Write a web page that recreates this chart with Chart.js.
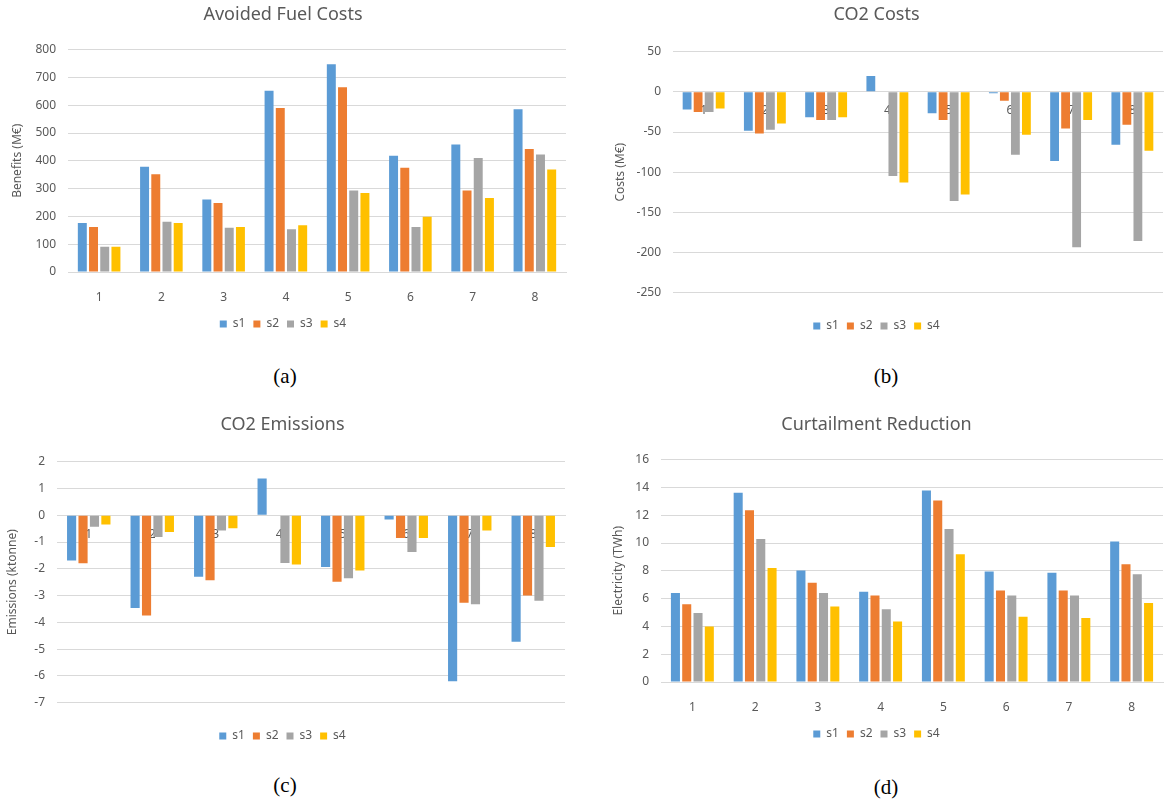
<!DOCTYPE html>
<html>
<head>
<meta charset="utf-8">
<script src="https://cdn.jsdelivr.net/npm/chart.js@4/dist/chart.umd.min.js"></script>
<style>
  body { margin: 0; background: #fff; width: 1164px; height: 805px; position: relative; overflow: hidden; }
  .panel { position: absolute; }
  .caption { position: absolute; font-family: "Liberation Serif", "DejaVu Serif", serif; font-size: 21px; color: #000; transform: translateX(-50%); }
</style>
</head>
<body>
<div class="panel" style="left:0;top:0;width:580px;height:340px"><canvas id="fuelChart"></canvas></div>
<div class="panel" style="left:590px;top:0;width:574px;height:342px"><canvas id="costChart"></canvas></div>
<div class="panel" style="left:0;top:410px;width:580px;height:342px"><canvas id="emisChart"></canvas></div>
<div class="panel" style="left:590px;top:410px;width:574px;height:340px"><canvas id="curtChart"></canvas></div>
<div class="caption" style="left:285px;top:364px">(a)</div>
<div class="caption" style="left:886px;top:364px">(b)</div>
<div class="caption" style="left:285px;top:773px">(c)</div>
<div class="caption" style="left:886px;top:775px">(d)</div>

<script>
// categories and series
const cases = ['1', '2', '3', '4', '5', '6', '7', '8'];
const seriesNames = ['s1', 's2', 's3', 's4'];
const seriesColors = ['#5B9BD5', '#ED7D31', '#A5A5A5', '#FFC000'];

// (a) Avoided Fuel Costs, M€
const fuelS1 = [176, 379, 261, 652, 747, 418, 459, 585];
const fuelS2 = [162, 352, 248, 590, 665, 375, 293, 442];
const fuelS3 = [91, 181, 159, 154, 293, 162, 410, 423];
const fuelS4 = [91, 176, 162, 168, 284, 199, 266, 369];

// (b) CO2 Costs, M€
const costS1 = [-22, -48.5, -31.5, 19.5, -26.6, -1.7, -86, -66];
const costS2 = [-25, -52, -35, 0, -35, -11, -45.6, -41];
const costS3 = [-25, -47.3, -35, -104.6, -135.7, -78.4, -193.4, -185.5];
const costS4 = [-20.7, -39.4, -31.5, -112.9, -127.8, -53.5, -35, -73.4];

// (c) CO2 Emissions, ktonne
const emisS1 = [-1.69, -3.46, -2.30, 1.37, -1.93, -0.16, -6.2, -4.72];
const emisS2 = [-1.79, -3.74, -2.43, 0, -2.48, -0.85, -3.27, -3.0];
const emisS3 = [-0.43, -0.81, -0.57, -1.78, -2.35, -1.37, -3.32, -3.19];
const emisS4 = [-0.35, -0.63, -0.49, -1.84, -2.06, -0.85, -0.57, -1.19];

// (d) Curtailment Reduction, TWh
const curtS1 = [6.4, 13.61, 8.02, 6.5, 13.78, 7.95, 7.86, 10.1];
const curtS2 = [5.59, 12.35, 7.14, 6.23, 13.06, 6.59, 6.59, 8.48];
const curtS3 = [4.97, 10.29, 6.4, 5.23, 11.0, 6.23, 6.23, 7.76];
const curtS4 = [3.99, 8.21, 5.44, 4.35, 9.19, 4.7, 4.61, 5.68];

const textColor = '#595959';
const gridColor = '#d9d9d9';
const fontFamily = '"Noto Sans", "Open Sans", sans-serif';

function buildDatasets(values) {
  return values.map((data, i) => ({
    label: seriesNames[i],
    data: data,
    backgroundColor: seriesColors[i],
    borderWidth: 0,
    barPercentage: 0.8,
    categoryPercentage: 0.72
  }));
}

function makeChart(canvasId, cfg) {
  const ctx = document.getElementById(canvasId).getContext('2d');
  return new Chart(ctx, {
    type: 'bar',
    data: {
      labels: cases,
      datasets: buildDatasets(cfg.series)
    },
    options: {
      responsive: true,
      maintainAspectRatio: false,
      animation: false,
      layout: { padding: { left: 0, right: cfg.right, top: 0, bottom: 0 } },
      plugins: {
        title: {
          display: true,
          text: cfg.title,
          color: textColor,
          font: { family: fontFamily, size: 18, weight: 'normal' },
          padding: { top: 4, bottom: cfg.titleGap }
        },
        legend: {
          position: 'bottom',
          // empty legend title only used as a spacer when the x axis sits at zero
          title: {
            display: !!cfg.zeroAxis,
            text: '',
            font: { size: 1 },
            padding: { top: 0, bottom: 18 }
          },
          labels: {
            color: textColor,
            font: { family: fontFamily, size: 12 },
            boxWidth: 7,
            boxHeight: 7,
            padding: 8
          }
        },
        tooltip: { enabled: false }
      },
      scales: {
        x: {
          position: cfg.zeroAxis ? { y: 0 } : 'bottom',
          z: cfg.zeroAxis ? 1 : 0,
          grid: { display: false },
          border: { display: true, color: gridColor, width: 1 },
          afterFit: (scale) => { if (!cfg.zeroAxis) scale.height = 38; },
          ticks: {
            color: textColor,
            font: { family: fontFamily, size: 12 },
            padding: cfg.zeroAxis ? 4 : 10
          }
        },
        y: {
          min: cfg.min,
          max: cfg.max,
          grid: { color: gridColor, drawTicks: false },
          border: { display: false },
          afterFit: (scale) => { scale.width = cfg.yWidth; },
          ticks: {
            stepSize: cfg.step,
            color: textColor,
            font: { family: fontFamily, size: 12 },
            padding: 12
          },
          title: {
            display: true,
            text: cfg.yTitle,
            color: textColor,
            font: { family: fontFamily, size: 12 },
            padding: { top: cfg.titleShift, bottom: 0 }
          }
        }
      }
    }
  });
}

makeChart('fuelChart', {
  title: 'Avoided Fuel Costs',
  yTitle: 'Benefits (M€)',
  series: [fuelS1, fuelS2, fuelS3, fuelS4],
  min: 0, max: 800, step: 100,
  yWidth: 68, titleShift: 10, titleGap: 24, right: 14
});

makeChart('costChart', {
  title: 'CO2 Costs',
  yTitle: 'Costs (M€)',
  series: [costS1, costS2, costS3, costS4],
  min: -250, max: 50, step: 50,
  yWidth: 83, titleShift: 23, titleGap: 26, right: 1, zeroAxis: true
});

makeChart('emisChart', {
  title: 'CO2 Emissions',
  yTitle: 'Emissions (ktonne)',
  series: [emisS1, emisS2, emisS3, emisS4],
  min: -7, max: 2, step: 1,
  yWidth: 57, titleShift: 5, titleGap: 26, right: 15, zeroAxis: true
});

makeChart('curtChart', {
  title: 'Curtailment Reduction',
  yTitle: 'Electricity (TWh)',
  series: [curtS1, curtS2, curtS3, curtS4],
  min: 0, max: 16, step: 2,
  yWidth: 71, titleShift: 21, titleGap: 24, right: 1
});
</script>
</body>
</html>
